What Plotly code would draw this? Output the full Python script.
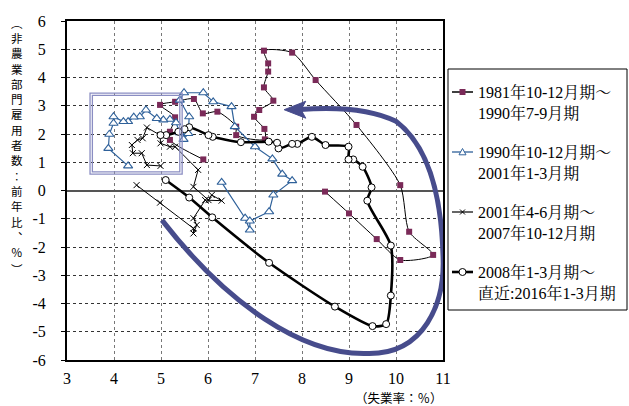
import plotly.graph_objects as go

# ---------------- data ----------------
s1_name = "1981年10-12月期～<br>1990年7-9月期"
s1_x = [8.49, 9.00, 9.59, 10.09, 10.79, 10.28, 10.09, 9.16, 8.29, 7.79, 7.19, 7.28, 7.28, 7.19, 7.39,
        7.09, 6.98, 7.20, 7.21, 6.60, 6.60, 6.20, 5.89, 5.70, 5.30, 4.98, 5.30, 5.19, 5.19, 5.90]
s1_y = [-0.04, -0.81, -1.72, -2.46, -2.28, -1.46, 0.19, 2.32, 3.91, 4.88, 4.95, 4.50, 4.21, 3.65, 3.18,
        2.85, 2.61, 2.18, 1.81, 1.96, 2.26, 2.79, 2.73, 3.24, 3.14, 3.03, 2.59, 2.08, 1.79, 1.10]

s2_name = "1990年10-12月期～<br>2001年1-3月期"
s2_x = [6.29, 6.79, 6.89, 6.89, 7.30, 7.39, 7.79, 7.58, 7.37, 7.00, 6.57, 6.50, 6.11, 5.90, 5.49, 5.40,
        5.60, 5.58, 5.48, 5.40, 5.32, 5.19, 5.05, 4.91, 4.68, 4.55, 4.42, 4.30, 4.20, 3.99, 3.99, 3.90,
        3.88, 4.30]
s2_y = [0.29, -0.98, -1.40, -1.08, -0.75, -0.16, 0.35, 0.58, 1.12, 1.55, 2.26, 2.97, 3.14, 3.46, 3.46, 3.20,
        2.61, 2.02, 1.81, 2.05, 2.40, 2.52, 2.50, 2.55, 2.85, 2.61, 2.60, 2.44, 2.44, 2.61, 2.38, 1.99,
        1.49, 0.87]

s3_name = "2001年4-6月期～<br>2007年10-12月期"
s3_x = [4.48, 4.98, 5.69, 5.69, 5.76, 5.69, 5.94, 6.29, 6.08, 6.01, 5.69, 5.79, 5.30, 5.19, 4.99, 4.98,
        4.70, 4.61, 4.50, 4.38, 4.40, 4.59, 4.70, 4.99]
s3_y = [0.19, -0.43, -1.34, -1.52, -1.22, -0.98, -0.34, -0.36, -0.16, -0.34, 0.13, 0.73, 1.55, 1.55, 1.67, 1.96,
        2.23, 1.85, 1.79, 1.61, 1.32, 1.32, 0.90, 0.87]

s4_name = "2008年1-3月期～<br>直近:2016年1-3月期"
s4_x = [5.10, 5.60, 6.09, 7.30, 8.70, 9.50, 9.79, 9.89, 9.89, 9.39, 9.48, 9.29, 9.09, 8.99, 8.99, 8.50,
        8.21, 7.90, 7.79, 7.50, 7.47, 7.29, 6.70, 6.10, 6.01, 5.60, 5.50, 5.37, 5.11, 4.99]
s4_y = [0.37, -0.25, -0.95, -2.56, -4.11, -4.80, -4.73, -3.72, -1.95, -0.36, 0.11, 0.84, 1.10, 1.10, 1.55, 1.61,
        1.90, 1.65, 1.65, 1.49, 1.69, 1.73, 1.71, 1.90, 1.96, 2.24, 2.17, 2.08, 1.96, 1.96]

x_ticks = [3, 4, 5, 6, 7, 8, 9, 10, 11]
y_ticks = [6, 5, 4, 3, 2, 1, 0, -1, -2, -3, -4, -5, -6]
y_title = "︵非農業部門雇用者数︰前年比︑％︶"
x_title = "（失業率：％）"

# ---------------- style ----------------
W, H = 629, 406
ML, MR, MT, MB = 67, 186, 21, 46
PW, PH = W - ML - MR, H - MT - MB
SERIF = "Liberation Serif, Noto Serif CJK JP, Noto Sans CJK JP"
CJK = "Noto Sans CJK JP"
MAROON = "#7a2a58"
BLUE = "#2f619a"
NAVY = "#474c8c"
BOXC = "#8a8dc2"


def px(x):
    return (x - ML) / PW


def py(y):
    return (H - MB - y) / PH


fig = go.Figure()
fig.add_trace(go.Scatter(x=s1_x, y=s1_y, mode="lines+markers", name=s1_name,
                         line=dict(color="black", width=1, shape="spline", smoothing=0.7),
                         marker=dict(symbol="square", size=6, color=MAROON, line=dict(width=0))))
fig.add_trace(go.Scatter(x=s2_x, y=s2_y, mode="lines+markers", name=s2_name,
                         line=dict(color=BLUE, width=1.2),
                         marker=dict(symbol="triangle-up", size=8, color="white",
                                     line=dict(color=BLUE, width=1.1))))
fig.add_trace(go.Scatter(x=s3_x, y=s3_y, mode="lines+markers", name=s3_name,
                         line=dict(color="black", width=1),
                         marker=dict(symbol="x-thin", size=6, color="black",
                                     line=dict(color="black", width=1))))
fig.add_trace(go.Scatter(x=s4_x, y=s4_y, mode="lines+markers", name=s4_name,
                         line=dict(color="black", width=2.6, shape="spline", smoothing=0.7),
                         marker=dict(symbol="circle", size=7, color="white",
                                     line=dict(color="black", width=1))))

shapes = []
# double-line highlight box
shapes.append(dict(type="rect", xref="x", yref="y", x0=3.49, x1=5.45, y0=0.58, y1=3.45,
                   line=dict(color=BOXC, width=1.3), layer="above"))
shapes.append(dict(type="rect", xref="x", yref="y", x0=3.54, x1=5.40, y0=0.66, y1=3.37,
                   line=dict(color=BOXC, width=1.3), layer="above"))
# big curved arrow
arrow_path = ("M 5.02,-1.05 C 6.4,-4.0 8.0,-5.85 9.4,-5.77 "
              "C 10.6,-5.8 11.05,-4.0 11.0,-2.3 "
              "C 10.97,-0.4 10.75,1.5 10.0,2.45 "
              "C 9.4,2.95 8.6,2.95 7.95,2.87")
shapes.append(dict(type="path", xref="x", yref="y", path=arrow_path,
                   line=dict(color=NAVY, width=5), layer="above"))
shapes.append(dict(type="path", xref="x", yref="y",
                   path="M 7.62,2.86 L 8.08,3.16 L 7.98,2.86 L 8.08,2.56 Z",
                   fillcolor=NAVY, line=dict(color=NAVY, width=1), layer="above"))

# custom legend
shapes.append(dict(type="rect", xref="paper", yref="paper", x0=px(448), x1=px(627),
                   y0=py(310), y1=py(69), line=dict(color="black", width=1), fillcolor="white"))
names = [s1_name, s2_name, s3_name, s4_name]
rows = [92, 152, 212, 272]
lcols = ["black", BLUE, "black", "black"]
lwid = [1.5, 1.3, 1.2, 2.6]
ann = []
for i, r in enumerate(rows):
    shapes.append(dict(type="line", xref="paper", yref="paper", x0=px(452), x1=px(473),
                       y0=py(r), y1=py(r), line=dict(color=lcols[i], width=lwid[i])))
    cx = 462.5
    if i == 0:
        shapes.append(dict(type="rect", xref="paper", yref="paper", x0=px(cx - 3), x1=px(cx + 3),
                           y0=py(r + 3), y1=py(r - 3), fillcolor=MAROON, line=dict(width=0)))
    elif i == 1:
        shapes.append(dict(type="path", xref="paper", yref="paper",
                           path=f"M {px(cx-3.5)},{py(r+2.8)} L {px(cx+3.5)},{py(r+2.8)} L {px(cx)},{py(r-3.5)} Z",
                           fillcolor="white", line=dict(color=BLUE, width=1)))
    elif i == 2:
        shapes.append(dict(type="path", xref="paper", yref="paper",
                           path=f"M {px(cx-2.5)},{py(r-2.5)} L {px(cx+2.5)},{py(r+2.5)} M {px(cx-2.5)},{py(r+2.5)} L {px(cx+2.5)},{py(r-2.5)}",
                           line=dict(color="black", width=1)))
    else:
        shapes.append(dict(type="circle", xref="paper", yref="paper", x0=px(cx - 3.5), x1=px(cx + 3.5),
                           y0=py(r + 3.5), y1=py(r - 3.5), fillcolor="white", line=dict(color="black", width=1)))
    ann.append(dict(x=px(476), y=py(r + 10), xref="paper", yref="paper", text=names[i],
                    showarrow=False, xanchor="left", yanchor="middle", align="left",
                    font=dict(family=SERIF, size=16, color="black")))

# vertical y-axis title, one character per annotation
for k, ch in enumerate(y_title):
    if k == 0:
        yy = 22.5
    elif k == len(y_title) - 1:
        yy = 268.5
    else:
        yy = 38 + (k - 1) * 15.3
    ann.append(dict(x=px(17), y=py(yy), xref="paper", yref="paper", text=ch, showarrow=False,
                    xanchor="center", yanchor="middle", borderpad=0,
                    font=dict(family=CJK, size=11.5, color="black")))

ann.append(dict(x=px(399), y=py(397.5), xref="paper", yref="paper", text=x_title, showarrow=False,
                xanchor="center", yanchor="middle", borderpad=0,
                font=dict(family=CJK, size=12.5, color="black")))

fig.update_layout(
    width=W, height=H, margin=dict(l=ML, r=MR, t=MT, b=MB),
    paper_bgcolor="white", plot_bgcolor="white", showlegend=False,
    shapes=shapes, annotations=ann,
    xaxis=dict(range=[3, 11], tickvals=x_ticks, ticktext=[str(v) for v in x_ticks],
               showgrid=True, gridcolor="#777", griddash="dot", gridwidth=1,
               showline=True, linecolor="black", linewidth=1.5, mirror=True,
               zeroline=False, ticks="", ticklabelstandoff=3,
               tickfont=dict(family=SERIF, size=16, color="black")),
    yaxis=dict(range=[-6, 6], tickvals=y_ticks, ticktext=[str(v) for v in y_ticks],
               showgrid=True, gridcolor="#333", griddash="dot", gridwidth=1,
               showline=True, linecolor="black", linewidth=2, mirror=True,
               zeroline=True, zerolinecolor="#555", zerolinewidth=1.5,
               ticks="outside", ticklen=4, tickcolor="black", ticklabelstandoff=12,
               tickfont=dict(family=SERIF, size=16, color="black")),
)

fig.write_html("out.html", config={"displayModeBar": False},
               post_script="document.body.style.margin='0';document.body.style.padding='0';")
